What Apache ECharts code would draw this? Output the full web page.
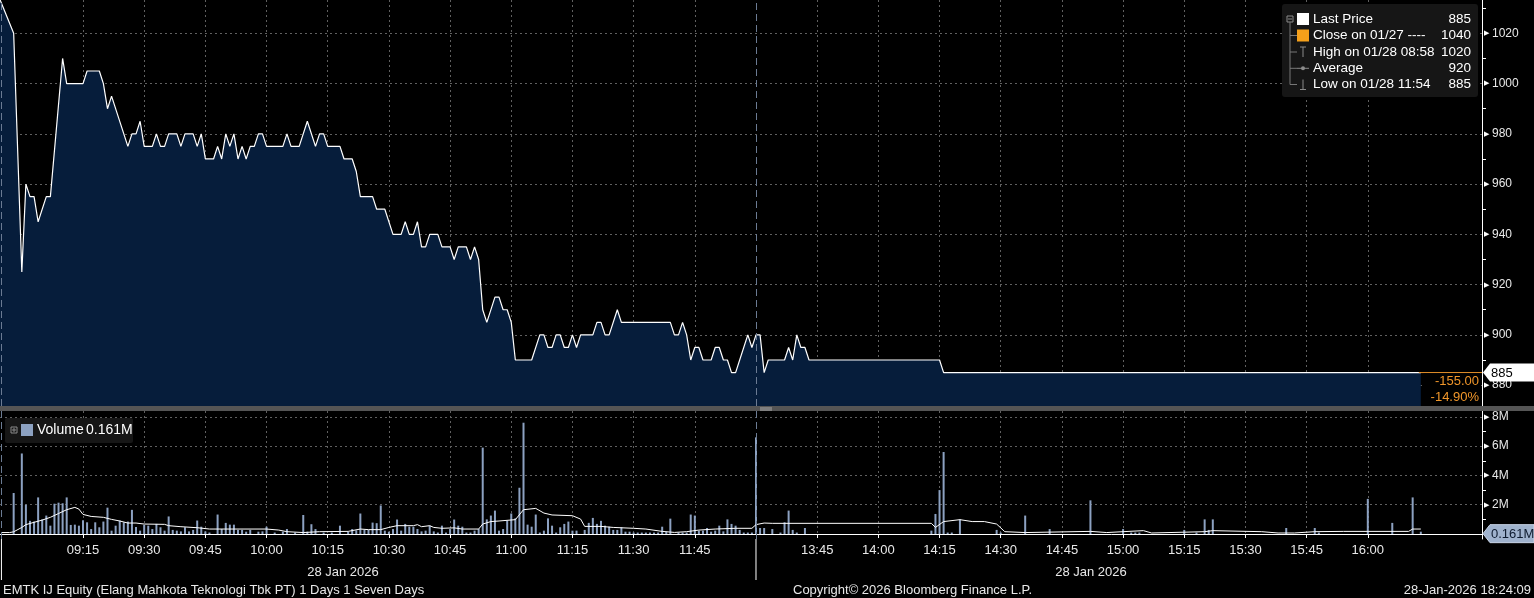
<!DOCTYPE html>
<html><head><meta charset="utf-8">
<script src="https://cdn.jsdelivr.net/npm/echarts@6/dist/echarts.min.js"></script>
<style>html,body{margin:0;padding:0;background:#000;overflow:hidden}#c{width:1534px;height:598px}</style>
</head><body><div id="c"></div>
<script>
// ---------- data ----------
const priceTimes = ['08:53','08:58','09:00','09:01','09:02','09:03','09:04','09:06','09:07','09:10','09:11','09:15','09:16','09:19','09:20','09:21','09:22','09:26','09:27','09:28','09:29','09:30','09:32','09:33','09:34','09:35','09:36','09:38','09:39','09:40','09:42','09:43','09:44','09:45','09:47','09:48','09:49','09:50','09:51','09:52','09:53','09:54','09:55','09:56','09:57','09:58','09:59','10:00','10:04','10:05','10:06','10:08','10:10','10:12','10:13','10:14','10:15','10:18','10:19','10:21','10:22','10:23','10:26','10:27','10:29','10:31','10:33','10:34','10:35','10:36','10:37','10:38','10:39','10:40','10:42','10:43','10:45','10:46','10:47','10:49','10:50','10:51','10:52','10:53','10:54','10:56','10:57','10:58','10:59','11:00','11:01','11:05','11:07','11:08','11:09','11:10','11:11','11:12','11:13','11:14','11:15','11:16','11:17','11:20','11:21','11:22','11:23','11:24','11:26','11:27','11:39','11:40','11:41','11:42','11:43','11:44','11:45','11:46','11:47','11:49','11:50','11:51','11:52','11:53','11:54','11:55','11:56','11:58','11:59','12:00','13:31','13:32','13:33','13:37','13:38','13:39','13:40','13:41','13:42','13:43','14:15','14:16','16:13'];
const priceValues = [1040,1020,925,960,955,955,945,955,955,1010,1000,1000,1005,1005,1000,990,995,975,980,980,985,975,975,980,975,975,980,980,975,980,980,975,980,970,970,975,970,980,975,980,970,975,970,975,975,980,980,975,975,980,975,975,985,975,980,980,975,975,970,970,965,955,955,950,950,940,940,945,940,940,945,935,935,940,940,935,935,930,935,935,930,935,930,910,905,915,915,910,910,905,890,890,900,900,895,895,900,900,895,895,900,895,900,900,905,905,900,900,910,905,905,900,900,905,900,890,895,895,890,890,895,895,890,890,885,885,890,900,895,900,900,885,890,890,895,890,900,895,895,890,890,885,885];

const volPreTimes = ['08:58'];
const volPreValues = [2.8];
const volMorningStart = '09:00';
const volMorning = [
5.5,2.0,0.9,0.85,2.5,1.0,1.26,0.57,2.07,2.14,
2.1,2.5,0.62,0.64,0.57,0.94,0.8,0.34,0.8,0.46,
0.85,1.8,0.23,0.57,0.92,0.8,0.85,1.65,0.48,0.23,
0.62,0.57,0.34,0.69,0.46,0.23,1.2,0.28,0.23,0.18,
0.46,0.18,0.28,0.92,0.5,0.18,0.1,0,1.33,0.34,
0.76,0.64,0.64,0.28,0.28,0.16,0.28,0,0.16,0.18,
0.5,0,0.1,0,0.16,0.34,0,0.1,0,1.3,
0.16,0.67,0.34,0,0.1,0,0.1,0,0.57,0,
0.16,0.34,0.25,1.4,0.28,0.28,0.78,0.74,1.95,0.23,
0.16,0.34,0.99,0.23,0.69,0.5,0.5,0.34,0.18,0.23,
0.57,0.18,0.1,0.57,0.1,0.34,0.99,0.57,0.5,0.1,
0.1,0.23,0.34,5.9,1.0,1.26,1.6,0.23,0.34,0.92,
1.4,1.07,3.16,7.6,0.64,0.5,1.33,0.1,0.23,1.07,
0.57,0.1,0.46,0.69,0.85,0.23,0.23,0,0.28,0.76,
1.1,0.69,0.9,0.57,0.5,0.28,0.28,0.46,0.16,0.16,
0.1,0.1,0.1,0.1,0.1,0.1,0.1,0.5,0.16,1.05,
0,0.1,0.1,0.1,1.33,1.26,0.23,0.23,0.41,0.16,
0.23,0.57,0.18,1.0,0.69,0.57,0.28,0.1,0.1,0.1];
const volAfternoonStart = '13:30';
const volAfternoon = [
6.6,0.41,0.41,0,0.34,0,0.1,0.8,1.6,0.28,
0.1,0,0.41,0,0,0,0,0,0,0,
0,0,0,0,0,0,0,0,0,0,
0,0,0,0,0,0,0,0,0,0,
0,0,0,0.23,1.37,3.0,5.6,0.1,0.1,0,
1.0,0,0,0,0,0,0,0,0,0.28,
0.1,0,0,0,0,0,1.26,0,0,0,
0,0,0.34,0,0,0,0,0,0,0,
0,0,2.3,0,0,0,0,0,0,0,
0.34,0,0.1,0.1,0.1,0,0,0,0,0,
0,0,0,0,0,0.28,0,0,0.1,0,
1.0,0.28,1.0,0,0,0,0,0,0,0,
0,0,0,0,0,0,0,0,0,0,
0.41,0,0,0,0,0,0,0.41,0.1,0,
0,0,0,0,0,0,0,0,0,0,
2.4,0,0,0,0,0,0.76,0,0,0,
0,2.5,0,0.16];

const maTimes = ['08:55','08:57','08:58','09:00','09:01','09:03','09:05','09:07','09:09','09:11','09:13','09:14','09:15','09:17','09:20','09:22','09:24','09:26','09:28','09:30','09:35','09:36','09:39','09:43','09:46','10:00','10:03','10:05','10:09','10:13','10:20','10:23','10:25','10:28','10:30','10:32','10:36','10:37','10:38','10:40','10:41','10:43','10:46','10:48','10:52','10:53','10:55','10:57','11:01','11:03','11:06','11:08','11:10','11:15','11:17','11:18','11:22','11:25','11:30','11:33','11:37','11:40','11:43','11:46','11:50','11:55','11:59','13:30','13:32','13:34','14:13','14:14','14:16','14:20','14:23','14:26','14:29','14:31','14:36','14:52','14:56','15:00','15:05','15:07','15:20','15:22','15:34','15:38','15:42','15:47','15:54','16:10','16:11','16:13'];
const maValues = [0.1,0.1,0.15,0.45,0.64,0.8,0.95,1.14,1.4,1.66,1.82,1.7,1.34,1.2,1.14,1.0,0.89,0.75,0.75,0.68,0.66,0.57,0.5,0.43,0.34,0.34,0.27,0.16,0.1,0.16,0.18,0.34,0.3,0.3,0.45,0.57,0.57,0.64,0.5,0.57,0.45,0.39,0.42,0.34,0.34,0.68,0.85,0.89,0.98,1.66,1.75,1.43,1.3,1.25,1.02,0.52,0.52,0.45,0.39,0.34,0.18,0.11,0.16,0.27,0.34,0.39,0.39,0.64,0.75,0.73,0.73,0.45,0.85,0.98,0.85,0.85,0.68,0.16,0.1,0.18,0.1,0.16,0.23,0.07,0.16,0.23,0.16,0.07,0.07,0.16,0.18,0.18,0.34,0.34];

const xTickLabels = ['09:15','09:30','09:45','10:00','10:15','10:30','10:45','11:00','11:15','11:30','11:45','13:45','14:00','14:15','14:30','14:45','15:00','15:15','15:30','15:45','16:00'];
const priceTicks = [880,900,920,940,960,980,1000,1020];
const priceMinorTicks = [890,910,930,950,970,990,1010,1030];
const volTicks = [2,4,6,8];
const volMinorTicks = [1,3,5,7];
const sessionMarks = ['08:55','12:00'];
const dateLabel = '28 Jan 2026';

const legendNames = ['Last Price','Close on 01/27 ----','High on 01/28 08:58','Average','Low on 01/28 11:54'];
const legendValues = ['885','1040','1020','920','885'];
const lastPrice = 885;
const changeAbs = '-155.00';
const changePct = '-14.90%';
const volumeName = 'Volume';
const lastVolume = 0.161;
const footerLeft = 'EMTK IJ Equity (Elang Mahkota Teknologi Tbk PT) 1 Days 1 Seven Days';
const footerMid = 'Copyright\u00a9 2026 Bloomberg Finance L.P.';
const footerRight = '28-Jan-2026 18:24:09';

// ---------- helpers ----------
const FONT = "'Liberation Sans', Arial, sans-serif";
function toAxis(s){ const p=s.split(':').map(Number); const v=p[0]*60+p[1]; return v>=810 ? v-90 : v; }
function fmtAxis(v){ let r=Math.round(v>720 ? v+90 : v); const h=Math.floor(r/60), m=r%60; return String(h).padStart(2,'0')+':'+String(m).padStart(2,'0'); }
function addMin(s,k){ const p=s.split(':').map(Number); const v=p[0]*60+p[1]+k; return String(Math.floor(v/60)).padStart(2,'0')+':'+String(v%60).padStart(2,'0'); }

const X_MIN = 534.65, X_MAX = 898.0;
const P_MIN = 871.7, P_MAX = 1033.25;
const V_MIN = -0.34, V_MAX = 8.4;

const priceData = priceTimes.map((t,i)=>[toAxis(t), priceValues[i]]);
const volData = [];
volPreTimes.forEach((t,i)=>volData.push([toAxis(t), volPreValues[i]]));
volMorning.forEach((v,i)=>{ if(v>0) volData.push([toAxis(addMin(volMorningStart,i)), v]); });
volAfternoon.forEach((v,i)=>{ if(v>0) volData.push([toAxis(addMin(volAfternoonStart,i)), v]); });
const maData = maTimes.map((t,i)=>[toAxis(t), maValues[i]]);
const xTicks = xTickLabels.map(toAxis);

const gridLine = {show:true, lineStyle:{color:'#606060', type:[2,3], width:1}};
const sepLine = {silent:true, symbol:['none','none'], label:{show:false}, animation:false,
  lineStyle:{color:'#6b7b93', type:[7,4], width:1}, emphasis:{disabled:true},
  data: sessionMarks.map(t=>({xAxis: toAxis(t)}))};
const axisLbl = (suffix)=>({color:'#e8e8e8', fontFamily:FONT, fontSize:12, margin:2,
  formatter: v=>'{t|\u25B6}{v|'+v+suffix+'}',
  rich:{t:{fontSize:7, color:'#ffffff', padding:[0,3,0,0]}, v:{fontSize:12, color:'#e8e8e8', fontFamily:FONT}}});

const chart = echarts.init(document.getElementById('c'), null, {renderer:'canvas'});
chart.setOption({
  backgroundColor:'#000000',
  animation:false,
  grid:[{left:0,right:52,top:0,height:406},{left:0,right:52,top:411,height:128}],
  xAxis:[
    {gridIndex:0,type:'value',min:X_MIN,max:X_MAX,axisLine:{show:false},
     axisTick:{show:false,customValues:xTicks},axisLabel:{show:false,customValues:xTicks},splitLine:gridLine},
    {gridIndex:1,type:'value',min:X_MIN,max:X_MAX,
     axisLine:{show:true,lineStyle:{color:'#ffffff',width:1}},
     axisTick:{show:true,length:4,customValues:xTicks,lineStyle:{color:'#ffffff'}},
     axisLabel:{customValues:xTicks,formatter:fmtAxis,color:'#e8e8e8',fontFamily:FONT,fontSize:13,margin:5},
     splitLine:gridLine}
  ],
  yAxis:[
    {gridIndex:0,type:'value',position:'right',min:P_MIN,max:P_MAX,
     axisLine:{show:true,lineStyle:{color:'#ffffff'}},
     axisTick:{show:false,customValues:priceTicks},
     axisLabel:Object.assign({customValues:priceTicks},axisLbl('')),
     splitLine:gridLine},
    {gridIndex:0,type:'value',position:'right',min:P_MIN,max:P_MAX,
     axisLine:{show:false},axisTick:{show:true,length:4,customValues:priceMinorTicks,lineStyle:{color:'#ffffff'}},
     axisLabel:{show:false},splitLine:{show:false}},
    {gridIndex:1,type:'value',position:'right',min:V_MIN,max:V_MAX,
     axisLine:{show:true,lineStyle:{color:'#ffffff'}},
     axisTick:{show:false,customValues:volTicks},
     axisLabel:Object.assign({customValues:volTicks},axisLbl('M')),
     splitLine:gridLine},
    {gridIndex:1,type:'value',position:'right',min:V_MIN,max:V_MAX,
     axisLine:{show:false},axisTick:{show:true,length:4,customValues:volMinorTicks,lineStyle:{color:'#ffffff'}},
     axisLabel:{show:false},splitLine:{show:false}}
  ],
  series:[
    {name:'Last Price',type:'line',xAxisIndex:0,yAxisIndex:0,data:priceData,showSymbol:false,symbol:'none',
     lineStyle:{color:'#ffffff',width:1.2},areaStyle:{color:'#061d3b',opacity:1,origin:'start'},
     markLine:sepLine,z:3},
    {name:'Volume',type:'bar',xAxisIndex:1,yAxisIndex:2,data:volData,barWidth:2,
     itemStyle:{color:'#8ca1c1'},markLine:sepLine,z:3},
    {name:'MA',type:'line',xAxisIndex:1,yAxisIndex:2,data:maData,showSymbol:false,symbol:'none',
     lineStyle:{color:'#ffffff',width:1},z:4}
  ]
});

// ---------- overlay labels positioned through the chart scales ----------
const yLast = chart.convertToPixel({yAxisIndex:0}, lastPrice);
const xLast = chart.convertToPixel({xAxisIndex:0}, toAxis(priceTimes[priceTimes.length-1]));
const yVol = chart.convertToPixel({yAxisIndex:2}, lastVolume);
const xNoon = chart.convertToPixel({xAxisIndex:1}, toAxis('12:00'));
const xStart = chart.convertToPixel({xAxisIndex:1}, toAxis(sessionMarks[0]));
const AX = 1482;
const txt = (text,x,y,opt)=>Object.assign({type:'text',silent:true,z:100,style:Object.assign({text:text,x:x,y:y,fill:'#ffffff',font:'13px '+FONT,textAlign:'left',textVerticalAlign:'middle',align:'left',verticalAlign:'middle'},opt||{})});
const rowsY = [19,35.5,52,68.3,84.5];
const g = [];
// separator between panels
g.push({type:'rect',silent:true,z:90,shape:{x:0,y:406,width:1534,height:5},style:{fill:'#555555'}});
g.push({type:'line',silent:true,z:91,shape:{x1:xNoon+4,y1:408,x2:xNoon+16,y2:408},style:{stroke:'#aaaaaa',lineWidth:1}});
g.push({type:'line',silent:true,z:91,shape:{x1:xNoon+4,y1:410,x2:xNoon+16,y2:410},style:{stroke:'#aaaaaa',lineWidth:1}});
// price legend box
g.push({type:'rect',silent:true,z:95,shape:{x:1282,y:4,width:196,height:93,r:3},style:{fill:'#161616'}});
g.push({type:'rect',silent:true,z:96,shape:{x:1287,y:16,width:6,height:6},style:{fill:'none',stroke:'#8a8a8a',lineWidth:1}});
g.push({type:'line',silent:true,z:96,shape:{x1:1288,y1:19,x2:1292,y2:19},style:{stroke:'#8a8a8a'}});
g.push({type:'line',silent:true,z:96,shape:{x1:1290,y1:22,x2:1290,y2:rowsY[4]},style:{stroke:'#777777'}});
[1,2,3,4].forEach(i=>g.push({type:'line',silent:true,z:96,shape:{x1:1290,y1:rowsY[i],x2:1297,y2:rowsY[i]},style:{stroke:'#777777'}}));
g.push({type:'rect',silent:true,z:96,shape:{x:1297,y:rowsY[0]-6,width:12,height:12},style:{fill:'#ffffff'}});
g.push({type:'rect',silent:true,z:96,shape:{x:1297,y:rowsY[1]-6,width:12,height:12},style:{fill:'#f5a01a'}});
g.push({type:'line',silent:true,z:96,shape:{x1:1303,y1:rowsY[2]-5,x2:1303,y2:rowsY[2]+5},style:{stroke:'#8a8a8a'}});
g.push({type:'line',silent:true,z:96,shape:{x1:1300,y1:rowsY[2]-5,x2:1306,y2:rowsY[2]-5},style:{stroke:'#8a8a8a'}});
g.push({type:'line',silent:true,z:96,shape:{x1:1297,y1:rowsY[3],x2:1309,y2:rowsY[3]},style:{stroke:'#8a8a8a'}});
g.push({type:'circle',silent:true,z:97,shape:{cx:1303,cy:rowsY[3],r:2},style:{fill:'#8a8a8a'}});
g.push({type:'line',silent:true,z:96,shape:{x1:1303,y1:rowsY[4]-5,x2:1303,y2:rowsY[4]+5},style:{stroke:'#8a8a8a'}});
g.push({type:'line',silent:true,z:96,shape:{x1:1300,y1:rowsY[4]+5,x2:1306,y2:rowsY[4]+5},style:{stroke:'#8a8a8a'}});
legendNames.forEach((n,i)=>{
  g.push(txt(n,1313,rowsY[i],{font:'13.5px '+FONT}));
  g.push(txt(legendValues[i],1471,rowsY[i],{textAlign:'right',align:'right',font:'13.5px '+FONT}));
});
// volume legend box
g.push({type:'rect',silent:true,z:95,shape:{x:5,y:418,width:128,height:25,r:2},style:{fill:'#161616'}});
g.push({type:'rect',silent:true,z:96,shape:{x:11,y:427,width:6,height:6},style:{fill:'none',stroke:'#8a8a8a'}});
g.push({type:'line',silent:true,z:96,shape:{x1:12,y1:430,x2:16,y2:430},style:{stroke:'#8a8a8a'}});
g.push({type:'line',silent:true,z:96,shape:{x1:14,y1:428,x2:14,y2:432},style:{stroke:'#8a8a8a'}});
g.push({type:'rect',silent:true,z:96,shape:{x:21,y:424,width:12,height:12},style:{fill:'#8ca1c1'}});
g.push(txt(volumeName,37,430.5,{font:'14px '+FONT}));
g.push(txt(lastVolume.toFixed(3)+'M',86,430.5,{font:'14px '+FONT}));
// last price marker and change box
g.push({type:'line',silent:true,z:92,shape:{x1:xLast-2,y1:yLast,x2:AX,y2:yLast},style:{stroke:'#e8932a',lineWidth:1}});
g.push({type:'rect',silent:true,z:92,shape:{x:xLast+3,y:yLast+1,width:AX-xLast-4,height:405-yLast},style:{fill:'#000000'}});
g.push(txt(changeAbs,1479,yLast+9,{textAlign:'right',align:'right',fill:'#f0962a'}));
g.push(txt(changePct,1479,yLast+25,{textAlign:'right',align:'right',fill:'#f0962a'}));
g.push({type:'polygon',silent:true,z:99,shape:{points:[[1483,yLast],[1490,yLast-9],[1534,yLast-9],[1534,yLast+9],[1490,yLast+9]]},style:{fill:'#ffffff'}});
g.push(txt(String(lastPrice),1491,yLast+0.5,{fill:'#000000'}));
g.push({type:'polygon',silent:true,z:99,shape:{points:[[1483,yVol+2],[1490,yVol-7],[1534,yVol-7],[1534,yVol+11],[1490,yVol+11]]},style:{fill:'#9fb2cd',stroke:'#c8d4e6',lineWidth:1}});
g.push(txt(lastVolume.toFixed(3)+'M',1491,yVol+2.5,{fill:'#0d1a2e'}));
// session separators in the date area
[xStart,xNoon].forEach(x=>g.push({type:'line',silent:true,z:92,shape:{x1:x,y1:539,x2:x,y2:580},style:{stroke:'#ffffff',lineWidth:1}}));
// date and footer
g.push(txt(dateLabel,343,572,{textAlign:'center',align:'center',fill:'#e8e8e8'}));
g.push(txt(dateLabel,1091,572,{textAlign:'center',align:'center',fill:'#e8e8e8'}));
g.push(txt(footerLeft,3,590,{fill:'#e8e8e8'}));
g.push(txt(footerMid,793,590,{fill:'#e8e8e8'}));
g.push(txt(footerRight,1531,590,{textAlign:'right',align:'right',fill:'#e8e8e8'}));
chart.setOption({graphic:g});
</script>
</body></html>
